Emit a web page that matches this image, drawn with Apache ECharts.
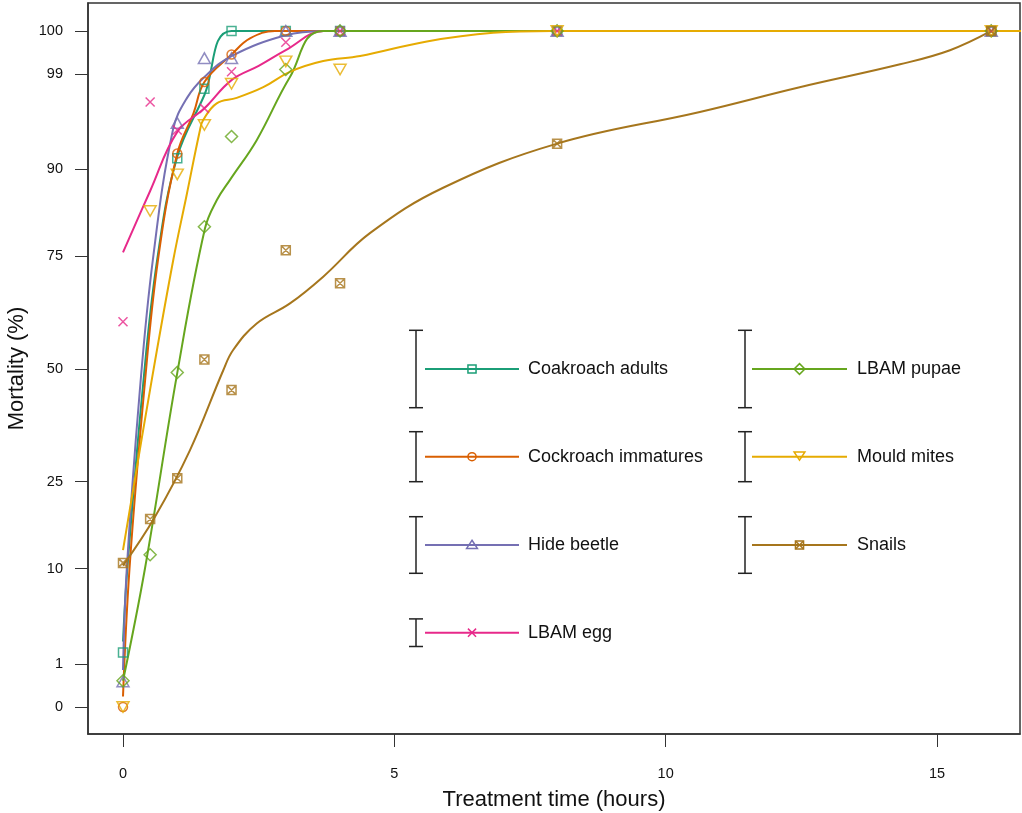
<!DOCTYPE html>
<html><head><meta charset="utf-8">
<script src="https://cdn.jsdelivr.net/npm/echarts@6/dist/echarts.min.js"></script>
<style>html,body{margin:0;padding:0;background:#fff;overflow:hidden}#c{width:1022px;height:813px}</style>
</head><body><div id="c"></div>
<script>
// ---------- data ----------
const seriesNames = ['Coakroach adults','Cockroach immatures','Hide beetle','LBAM egg','LBAM pupae','Mould mites','Snails'];
const seriesColors = ['#1B9E77','#D95F02','#7570B3','#E7298A','#66A61E','#E6AB02','#A6761D'];
const yTickPct = [0,1,10,25,50,75,90,99,100];
const xTicks = [0,5,10,15];

// observed mortality (%) at treatment times (h)
const adultsT   = [0,1,1.5,2,3,4,8,16];
const adultsPct = [1.6,91.5,98.2,100,100,100,100,100];
const immatT    = [0,1,1.5,2,3,4,8,16];
const immatPct  = [0,92.1,98.6,99.7,100,100,100,100];
const beetleT   = [0,1,1.5,2,3,4,8,16];
const beetlePct = [0.35,95.5,99.6,99.6,100,100,100,100];
const eggT      = [0,0.5,1,1.5,2,3,4,8,16];
const eggPct    = [60.9,97.3,94.8,96.8,99.1,99.93,100,100,100];
const pupaeT    = [0,0.5,1,1.5,2,3,4,8,16];
const pupaePct  = [0.37,12,49.2,80.7,94.1,99.2,100,100,100];
const mitesT    = [0,0.5,1,1.5,2,3,4,8,16];
const mitesPct  = [0,83.5,89.3,95.3,98.5,99.5,99.2,100,100];
const snailsT   = [0,0.5,1,1.5,2,3,4,8,16];
const snailsPct = [10.8,17.9,25.7,52.2,45.1,76.2,69.4,93.3,100];

// fitted curves
const adultsFitT   = [0,0.08,0.36,0.63,1.0,1.5,2.0,4.0];
const adultsFitPct = [2.3,10,45,74.3,91.7,97.8,100,100];
const immatFitT    = [0,0.12,0.39,0.645,1.0,1.3,1.5,2.0,2.34,2.8,3.7];
const immatFitPct  = [0.06,10,45,74.3,92.1,96.4,98.6,99.7,99.97,100,100];
const beetleFitT   = [0,0.07,0.31,0.55,0.92,1.18,1.5,2.0,3.0,3.7];
const beetleFitPct = [0.74,10,45,74.3,94.8,97.6,98.86,99.66,99.99,100];
const eggFitT      = [0,0.5,1.0,1.5,2.0,2.5,3.0,3.7,4.0];
const eggFitPct    = [75.8,86.8,94.6,96.8,98.7,99.34,99.8,100,100];
const pupaeFitT    = [0,0.405,1.0,1.511,1.727,1.972,2.464,3.077,3.685,16.6];
const pupaeFitPct  = [0.37,10,49.1,80.4,85.3,88.5,93.7,98.86,100,100];
const mitesFitT    = [0,0.529,0.927,1.174,1.419,1.48,1.727,2.095,2.585,3.077,3.69,4.37,5.6,6.82,7.92,16.6];
const mitesFitPct  = [12.7,47.4,74.3,86.2,94.8,95.8,97.2,97.6,98.3,99.1,99.51,99.66,99.94,99.998,100,100];
const snailsFitT   = [0,0.59,1.235,1.848,2.03,2.464,3.077,3.69,4.55,5.9,8.0,10.63,12.47,14.32,15.24,16];
const snailsFitPct = [10.4,18.3,31.6,49.7,54.4,60.5,65,70.8,79.5,87.3,93.3,96.5,98.3,99.4,99.8,100];

const pointsT   = [adultsT,immatT,beetleT,eggT,pupaeT,mitesT,snailsT];
const pointsPct = [adultsPct,immatPct,beetlePct,eggPct,pupaePct,mitesPct,snailsPct];
const fitT      = [adultsFitT,immatFitT,beetleFitT,eggFitT,pupaeFitT,mitesFitT,snailsFitT];
const fitPct    = [adultsFitPct,immatFitPct,beetleFitPct,eggFitPct,pupaeFitPct,mitesFitPct,snailsFitPct];

// ---------- helpers ----------
const tr = p => Math.asin(Math.sqrt(Math.max(0, Math.min(100, p)) / 100)); // arcsine-sqrt scale
const inv = v => Math.round(100 * Math.pow(Math.sin(v), 2));
const FONT = '"Liberation Sans", Arial, Helvetica, sans-serif';

const markerPaths = [
  'M0,0L10,0L10,10L0,10Z',
  'CIRCLE',
  'M5,0L10,8.66L0,8.66Z',
  'M0,0L10,10M0,10L10,0',
  'M5,0L10,5L5,10L0,5Z',
  'M0,0L10,0L5,8.66Z',
  'M0,0L10,0L10,10L0,10ZM0,0L10,10M0,10L10,0'
];
const symbols = markerPaths.map(p => p === 'CIRCLE' ? 'circle' : 'path://' + p);
const symbolSizes = [[9,9],[9,9],[12,10.5],[9,9],[12,12],[12,10.5],[9,9]];

const series = [];
for (let i = 0; i < seriesNames.length; i++) {
  series.push({
    name: seriesNames[i], type: 'line', smooth: 0.4,
    showSymbol: false, silent: true, z: 2,
    lineStyle: { color: seriesColors[i], width: 2 },
    data: fitT[i].map((t, k) => [t, tr(fitPct[i][k])])
  });
}
for (let i = 0; i < seriesNames.length; i++) {
  series.push({
    name: seriesNames[i] + ' obs', type: 'scatter', z: 3,
    symbol: symbols[i], symbolSize: symbolSizes[i],
    itemStyle: { color: 'transparent', borderColor: seriesColors[i], borderWidth: 1.5 },
    data: pointsT[i].map((t, k) => [t, tr(pointsPct[i][k])])
  });
}

// ---------- legend (graphic) ----------
function markerElements(pathStr, cx, cy, w, h, color) {
  const st = { fill: 'none', stroke: color, lineWidth: 1.5 };
  if (pathStr === 'CIRCLE') return [{ type: 'circle', shape: { cx: cx, cy: cy, r: w / 2 }, style: st }];
  const out = [];
  pathStr.split('M').filter(s => s.length).forEach(sub => {
    const closed = /Z$/.test(sub);
    const pts = sub.replace('Z', '').split('L').map(pp => {
      const [a, b] = pp.split(',').map(Number);
      return [cx - w / 2 + a / 10 * w, cy - h / 2 + b / 10 * h];
    });
    out.push({ type: closed ? 'polygon' : 'polyline', shape: { points: pts }, style: st });
  });
  return out;
}
const legendCols = [
  { bar: 416, l1: 425, l2: 519, mk: 472, tx: 528, items: [0,1,2,3] },
  { bar: 745, l1: 752, l2: 847, mk: 799.5, tx: 857, items: [4,5,6] }
];
const legendRowY = [369, 456.7, 545, 632.7];
const legendBarHalf = [38.7, 25, 28.3, 13.8];
const graphic = [];
legendCols.forEach(col => {
  col.items.forEach((si, r) => {
    const y = legendRowY[r], h = legendBarHalf[r];
    const ls = { stroke: '#222', lineWidth: 1.5 };
    graphic.push({ type: 'line', shape: { x1: col.bar, y1: y - h, x2: col.bar, y2: y + h }, style: ls });
    graphic.push({ type: 'line', shape: { x1: col.bar - 7, y1: y - h, x2: col.bar + 7, y2: y - h }, style: ls });
    graphic.push({ type: 'line', shape: { x1: col.bar - 7, y1: y + h, x2: col.bar + 7, y2: y + h }, style: ls });
    graphic.push({ type: 'line', shape: { x1: col.l1, y1: y, x2: col.l2, y2: y }, style: { stroke: seriesColors[si], lineWidth: 2 } });
    const sz = symbolSizes[si];
    markerElements(markerPaths[si], col.mk, y, sz[0] * 0.9, sz[1] * 0.9, seriesColors[si]).forEach(e => graphic.push(e));
    graphic.push({ type: 'text', x: col.tx, y: y, style: { text: seriesNames[si], fill: '#111', font: '18px ' + FONT, verticalAlign: 'middle' } });
  });
});

const chart = echarts.init(document.getElementById('c'), null, { renderer: 'canvas' });
chart.setOption({
  animation: false,
  backgroundColor: '#fff',
  grid: { left: 88, right: 2, top: 3, bottom: 79, outerBoundsMode: 'none', containLabel: false,
          show: true, borderColor: '#333', borderWidth: 1.5, backgroundColor: 'transparent' },
  xAxis: {
    type: 'value', min: -0.645, max: 16.53,
    name: 'Treatment time (hours)', nameLocation: 'middle', nameGap: 55,
    nameTextStyle: { fontSize: 22, color: '#111', fontFamily: FONT },
    axisLine: { show: true, onZero: false, lineStyle: { color: '#333', width: 1.5 } },
    axisTick: { show: true, length: 13, inside: false, customValues: xTicks, lineStyle: { color: '#333', width: 1 } },
    axisLabel: { customValues: xTicks, margin: 32, fontSize: 14.5, color: '#111', fontFamily: FONT },
    splitLine: { show: false }
  },
  yAxis: {
    type: 'value', min: -0.0627, max: 1.6357,
    name: 'Mortality (%)', nameLocation: 'middle', nameGap: 60,
    nameTextStyle: { fontSize: 22, color: '#111', fontFamily: FONT },
    axisLine: { show: true, onZero: false, lineStyle: { color: '#333', width: 1.5 } },
    axisTick: { show: true, length: 13, inside: false, customValues: yTickPct.map(tr), lineStyle: { color: '#333', width: 1 } },
    axisLabel: { customValues: yTickPct.map(tr), margin: 25, fontSize: 14.5, color: '#111', fontFamily: FONT, formatter: v => String(inv(v)) },
    splitLine: { show: false }
  },
  series: series,
  graphic: graphic
});
</script>
</body></html>
